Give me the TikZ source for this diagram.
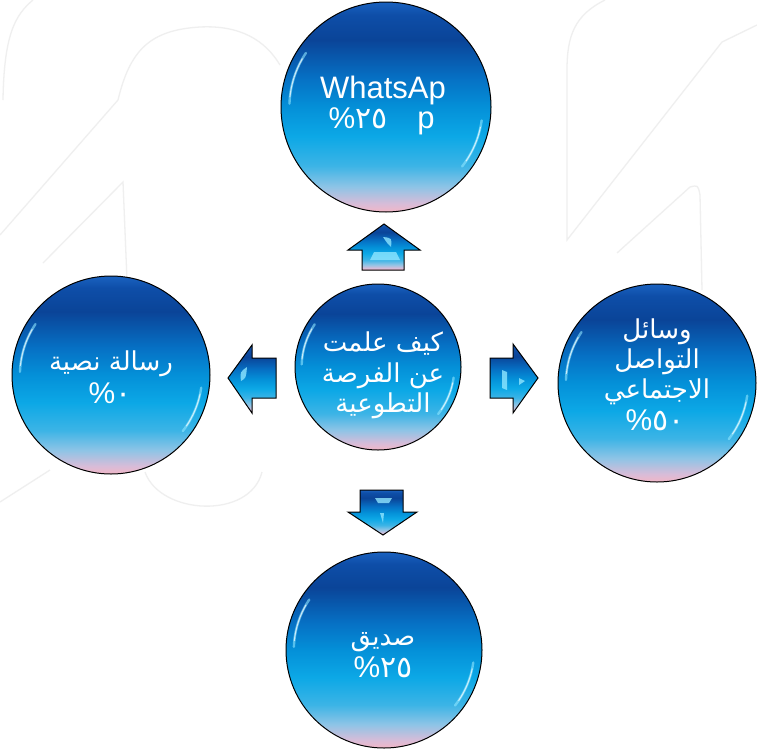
\documentclass[tikz,border=0pt]{standalone}
\usepackage{fontspec}
\setmainfont{Liberation Sans}
\newfontfamily\arabicfont[Script=Arabic]{DejaVu Sans}
\TeXXeTstate=1
\definecolor{bpink}{HTML}{F2B6C6}
\definecolor{bpinkb}{HTML}{D8BCD8}
\definecolor{blight}{HTML}{8EC4E6}
\definecolor{bsky}{HTML}{3CB4E6}
\definecolor{bcyan}{HTML}{0CA8E6}
\definecolor{bmid}{HTML}{0490D8}
\definecolor{bblue}{HTML}{0670C4}
\definecolor{bnavy}{HTML}{0A4498}
\definecolor{bnavyb}{HTML}{0E4EA8}
\definecolor{btop}{HTML}{1A62C0}
\definecolor{hilite}{HTML}{8FE6FF}
\definecolor{swirl}{HTML}{EFEFEF}
\pgfdeclareverticalshading{ball}{100bp}{color(0bp)=(bpink); color(25bp)=(bpink); color(27bp)=(bpinkb); color(31bp)=(blight); color(36bp)=(bsky); color(43bp)=(bcyan); color(50bp)=(bmid); color(57bp)=(bblue); color(66bp)=(bnavy); color(72bp)=(bnavyb); color(75bp)=(btop); color(100bp)=(btop)}
\newcommand{\pct}[1]{\hbox{\rmfamily\%}\hbox{\arabicfont #1}}
\tikzset{
  bubble/.style={circle, draw=black, line width=1pt, shading=ball, inner sep=0pt},
  blockarrow/.style={draw=black, line width=1pt, shading=ball, line join=miter},
  rim/.style={draw=hilite, line width=2.4pt, line cap=round, draw opacity=0.6},
  rimcore/.style={draw=white, line width=1pt, line cap=round, draw opacity=0.7},
  glint/.style={fill=hilite, fill opacity=0.8, draw=none},
  bgline/.style={draw=swirl, line width=1.3pt},
  latxt/.style={text=white, font=\fontsize{31}{31}\selectfont, anchor=base, inner sep=0pt},
  artxt/.style={text=white, font=\arabicfont\fontsize{26}{26}\selectfont, anchor=base, inner sep=0pt},
  pctxt/.style={text=white, font=\fontsize{30}{30}\selectfont, anchor=base, inner sep=0pt},
}
\begin{document}
\begin{tikzpicture}[x=1pt,y=-1pt]
\useasboundingbox (0,0) rectangle (757,755);
\fill[white] (0,0) rectangle (757,755);
% faint background swirls
\draw[bgline] (33,0) .. controls (15,15) and (4,35) .. (3,100);
\draw[bgline] (0,235) -- (118,100) .. controls (130,50) and (150,30) .. (200,27) .. controls (240,25) and (265,40) .. (280,65);
\draw[bgline] (43,263) -- (123,182) -- (127,280);
\draw[bgline] (605,0) .. controls (575,15) and (567,35) .. (567,70) -- (567,240) -- (722,42) -- (757,25);
\draw[bgline] (617,253) -- (690,187) .. controls (698,185) .. (700,195) -- (702,290);
\draw[bgline] (145,472) .. controls (160,515) and (250,520) .. (262,472);
\draw[bgline] (0,502) -- (50,470);
% circles
\node[bubble, minimum size=210pt] (top) at (386,107) {};
\node[bubble, minimum size=166pt] (center) at (378,367) {};
\node[bubble, minimum size=198pt] (left) at (111,375) {};
\node[bubble, minimum size=198pt] (right) at (657,383) {};
\node[bubble, minimum size=196pt] (bottom) at (384,650) {};
% rim highlights (visual angle = -code angle)
\foreach \c/\r in {top/105, center/83, left/99, right/99, bottom/98}{
  \draw[rim] (\c.center) ++(-146:{0.92*\r}) arc[start angle=-146, end angle=-178, radius={0.92*\r}];
  \draw[rimcore] (\c.center) ++(-150:{0.92*\r}) arc[start angle=-150, end angle=-174, radius={0.92*\r}];
  \draw[rim] (\c.center) ++(8:{0.92*\r}) arc[start angle=8, end angle=38, radius={0.92*\r}];
  \draw[rimcore] (\c.center) ++(12:{0.92*\r}) arc[start angle=12, end angle=34, radius={0.92*\r}];
}
% arrows
\path[blockarrow] (384,224) -- (420,250) -- (404,250) -- (404,270) -- (362,270) -- (362,250) -- (348,250) -- cycle;
\path[blockarrow] (228,378) -- (252,345) -- (252,358) -- (276,358) -- (276,398) -- (252,398) -- (252,413) -- cycle;
\path[blockarrow] (538,378) -- (513,344) -- (513,358) -- (490,358) -- (490,398) -- (513,398) -- (513,413) -- cycle;
\path[blockarrow] (383,535) -- (417,512) -- (403,512) -- (403,490) -- (360,490) -- (360,512) -- (348,512) -- cycle;
% arrow glints
\path[glint] (383,237) .. controls (392,238) .. (391,247) .. controls (387,243) .. cycle;
\path[glint] (374,252) -- (396,252) -- (400,260) -- (370,260) -- cycle;
\path[glint] (247,367) .. controls (240,372) .. (241,381) .. controls (246,378) .. cycle;
\path[glint] (502,370) -- (507,372) -- (507,390) -- (502,388) -- cycle;
\path[glint] (519,378) -- (525,381) -- (519,385) -- cycle;
\path[glint] (375,498) -- (392,498) -- (389,503) -- (378,503) -- cycle;
\path[glint] (380,513) -- (384,513) -- (383,523) -- cycle;
% texts
\node[latxt] (t1) at (383,98) {WhatsAp};
\node[pctxt] (t2) at (358,128) {\pct{٢٥}};
\node[latxt] (t3) at (426,128) {p};
\node[artxt] (c1) at (383,351) {\beginR كيف علمت\endR};
\node[artxt] (c2) at (383,382) {\beginR عن الفرصة\endR};
\node[artxt] (c3) at (383,412) {\beginR التطوعية\endR};
\node[artxt] (l1) at (111,370) {\beginR رسالة نصية\endR};
\node[pctxt] (l2) at (110,403) {\pct{٠}};
\node[artxt] (r1) at (657,338) {\beginR وسائل\endR};
\node[artxt] (r2) at (657,368) {\beginR التواصل\endR};
\node[artxt] (r3) at (657,398) {\beginR الاجتماعي\endR};
\node[pctxt] (r4) at (655,430) {\pct{٥٠}};
\node[artxt] (b1) at (383,645) {\beginR صديق\endR};
\node[pctxt] (b2) at (383,677) {\pct{٢٥}};
\end{tikzpicture}
\end{document}
